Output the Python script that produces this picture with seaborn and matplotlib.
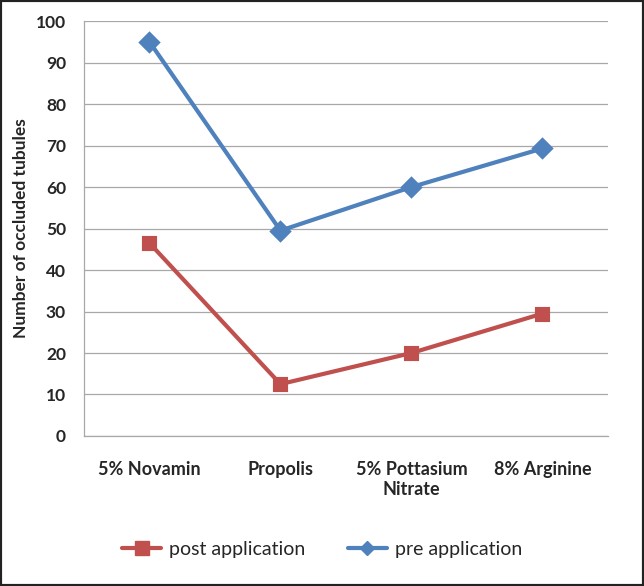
import pandas as pd
import numpy as np
import matplotlib.pyplot as plt
import matplotlib.patches as mpatches
import seaborn as sns

categories = ['5% Novamin', 'Propolis', '5% Pottasium\nNitrate', '8% Arginine']
post_values = [46.5, 12.5, 20.0, 29.5]
pre_values = [95.0, 49.5, 60.0, 69.3]
series_names = ['post application', 'pre application']

df = pd.DataFrame({
    'treatment': categories * 2,
    'count': post_values + pre_values,
    'series': [series_names[0]] * 4 + [series_names[1]] * 4,
})

sns.set_style('white')
plt.rcParams['font.family'] = ['Lato', 'DejaVu Sans']

fig = plt.figure(figsize=(6.44, 5.86), dpi=100)
ax = fig.add_axes([0.1304, 0.256, 0.8136, 0.708])

sns.pointplot(data=df, x='treatment', y='count', hue='series', order=categories,
              hue_order=series_names, palette=['#C0504D', '#4F81BD'],
              markers=['s', 'D'], markersize=9, linewidth=3, ax=ax, legend=False)

ax.set_ylim(0, 100)
ax.set_xlim(-0.5, 3.5)
ax.set_yticks(np.arange(0, 101, 10))
ax.yaxis.grid(True, color='#A8A8A8', linewidth=0.9)
ax.set_axisbelow(True)
ax.set_xlabel('')
ax.set_ylabel('Number of occluded tubules', fontsize=12.5, fontweight='bold', labelpad=5)
ax.tick_params(axis='y', labelsize=12.5, length=5, color='#A8A8A8', pad=8)
for lab in ax.get_yticklabels():
    lab.set_fontweight('bold')
ax.tick_params(axis='x', which='major', length=0, labelsize=13, pad=18)
for lab in ax.get_xticklabels():
    lab.set_fontweight('bold')
ax.set_xticks(np.arange(-0.5, 3.6, 1.0), minor=True)
ax.tick_params(axis='x', which='minor', length=5, color='#A8A8A8')
for side in ['top', 'right']:
    ax.spines[side].set_visible(False)
for side in ['left', 'bottom']:
    ax.spines[side].set_color('#A8A8A8')
    ax.spines[side].set_linewidth(0.9)

handles = [
    plt.Line2D([], [], color='#C0504D', marker='s', markersize=10, linewidth=3),
    plt.Line2D([], [], color='#4F81BD', marker='D', markersize=7, linewidth=3),
]
fig.legend(handles, series_names, loc='center', bbox_to_anchor=(0.5, 0.062), ncol=2,
           frameon=False, fontsize=14, handlelength=2.0, columnspacing=2.2, handletextpad=0.4)

fig.patches.append(mpatches.Rectangle((0, 0), 1, 1, transform=fig.transFigure,
                                      fill=False, edgecolor='#222222', linewidth=3))

plt.savefig('out.png', dpi=100)
plt.close()
